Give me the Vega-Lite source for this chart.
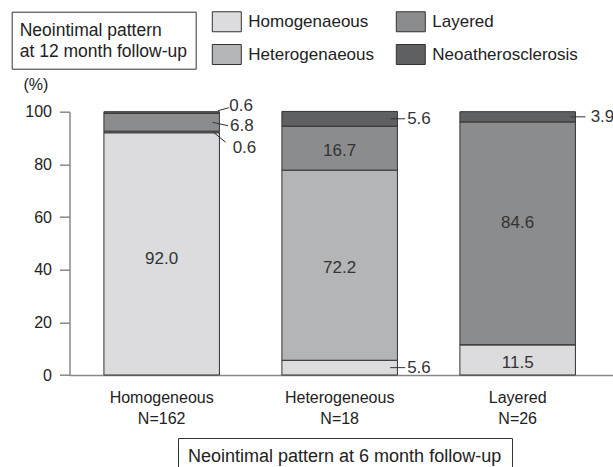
{
  "$schema": "https://vega.github.io/schema/vega-lite/v6.json",
  "width": 543.5,
  "height": 263.3,
  "autosize": {"type": "none"},
  "padding": {"left": 69.5, "top": 111.7, "right": 0, "bottom": 92},
  "background": "white",
  "config": {
    "font": "Liberation Sans",
    "view": {"stroke": null}
  },
  "data": {
    "values": [
      {"cat": "Homogeneous|N=162", "series": "Homogenaeous", "value": 92.0},
      {"cat": "Homogeneous|N=162", "series": "Heterogenaeous", "value": 0.6},
      {"cat": "Homogeneous|N=162", "series": "Layered", "value": 6.8},
      {"cat": "Homogeneous|N=162", "series": "Neoatherosclerosis", "value": 0.6},
      {"cat": "Heterogeneous|N=18", "series": "Homogenaeous", "value": 5.6},
      {"cat": "Heterogeneous|N=18", "series": "Heterogenaeous", "value": 72.2},
      {"cat": "Heterogeneous|N=18", "series": "Layered", "value": 16.7},
      {"cat": "Heterogeneous|N=18", "series": "Neoatherosclerosis", "value": 5.6},
      {"cat": "Layered|N=26", "series": "Homogenaeous", "value": 11.5},
      {"cat": "Layered|N=26", "series": "Heterogenaeous", "value": 0},
      {"cat": "Layered|N=26", "series": "Layered", "value": 84.6},
      {"cat": "Layered|N=26", "series": "Neoatherosclerosis", "value": 3.9}
    ]
  },
  "transform": [
    {"calculate": "indexof(['Homogenaeous','Heterogenaeous','Layered','Neoatherosclerosis'], datum.series)", "as": "k"},
    {"stack": "value", "groupby": ["cat"], "sort": [{"field": "k", "order": "ascending"}], "as": ["v0", "v1"]},
    {"calculate": "(datum.v0 + datum.v1) / 2", "as": "mid"}
  ],
  "encoding": {
    "x": {
      "field": "cat",
      "type": "nominal",
      "sort": null,
      "scale": {"type": "band", "paddingInner": 0.351, "paddingOuter": 0.2022, "align": 0.478},
      "axis": {
        "title": null,
        "ticks": false,
        "tickSize": 0,
        "labelAngle": 0,
        "labelExpr": "split(datum.label, '|')",
        "labelFontSize": 16,
        "labelLineHeight": 21,
        "labelColor": "#222",
        "labelPadding": 14,
        "domainColor": "#888",
        "domainWidth": 1.5
      }
    }
  },
  "layer": [
    {
      "mark": {"type": "bar", "stroke": "#333", "strokeWidth": 1},
      "encoding": {
        "y": {
          "field": "v0",
          "type": "quantitative",
          "title": "(%)",
          "scale": {"domain": [0, 100], "nice": false},
          "axis": {
            "values": [0, 20, 40, 60, 80, 100],
            "grid": false,
            "title": "(%)",
            "titleAngle": 0,
            "titleAlign": "left",
            "titleBaseline": "middle",
            "titleX": -46.5,
            "titleY": -27,
            "titleFontSize": 16,
            "titleFontWeight": "normal",
            "titleColor": "#222",
            "labelFontSize": 16,
            "labelColor": "#222",
            "labelPadding": 8,
            "tickSize": 10,
            "tickColor": "#888",
            "tickWidth": 1.5,
            "domainColor": "#888",
            "domainWidth": 1.5
          }
        },
        "y2": {"field": "v1"},
        "fill": {
          "field": "series",
          "type": "nominal",
          "scale": {
            "domain": ["Homogenaeous", "Heterogenaeous", "Layered", "Neoatherosclerosis"],
            "range": ["#dcdcde", "#b4b5b7", "#8b8c8e", "#5f6062"]
          },
          "legend": {
            "orient": "none",
            "legendX": 146.8,
            "legendY": -100.7,
            "columns": 2,
            "title": null,
            "padding": 0,
            "symbolType": "M-1.45,-1H1.45V1H-1.45Z",
            "symbolSize": 400,
            "symbolStrokeColor": "#333",
            "symbolStrokeWidth": 1,
            "labelFontSize": 17,
            "labelColor": "#222",
            "labelOffset": 11,
            "labelLimit": 300,
            "rowPadding": 8,
            "columnPadding": 20
          }
        },
        "opacity": {
          "field": "cat",
          "type": "nominal",
          "scale": {"range": [1, 1]},
          "legend": {
            "orient": "none",
            "legendX": -57.8,
            "legendY": -100,
            "values": [],
            "title": ["Neointimal pattern", "at 12 month follow-up"],
            "titleFontSize": 17.5,
            "titleLineHeight": 21.5,
            "titleBaseline": "line-top",
            "titleFontWeight": "normal",
            "titleColor": "#222",
            "titleLimit": 1000,
            "titlePadding": 0,
            "strokeColor": "#333",
            "padding": 8
          }
        },
        "strokeWidth": {
          "field": "value",
          "type": "quantitative",
          "scale": {"range": [1, 1]},
          "legend": {
            "orient": "none",
            "legendX": 108.5,
            "legendY": 326.3,
            "values": [],
            "title": "Neointimal pattern at 6 month follow-up",
            "titleFontSize": 18,
            "titleFontWeight": "normal",
            "titleColor": "#222",
            "titleLimit": 1000,
            "titlePadding": 0,
            "strokeColor": "#333",
            "padding": 10
          }
        }
      }
    },
    {
      "transform": [{"filter": "datum.value >= 10 && datum.value != 84.6 && datum.value != 92.0"}],
      "mark": {"type": "text", "baseline": "middle", "dy": 3, "fontSize": 17, "fill": "#333"},
      "encoding": {
        "y": {"field": "mid", "type": "quantitative", "title": "(%)"},
        "text": {"field": "value", "type": "quantitative", "format": ".1f"}
      }
    },
    {
      "transform": [{"filter": "datum.value == 84.6"}],
      "mark": {"type": "text", "baseline": "middle", "dy": -10, "fontSize": 17, "fill": "#333"},
      "encoding": {
        "y": {"field": "mid", "type": "quantitative", "title": "(%)"},
        "text": {"field": "value", "type": "quantitative", "format": ".1f"}
      }
    },
    {
      "transform": [{"filter": "datum.value == 92.0"}],
      "mark": {"type": "text", "baseline": "middle", "dy": 5, "fontSize": 17, "fill": "#333"},
      "encoding": {
        "y": {"field": "mid", "type": "quantitative", "title": "(%)"},
        "text": {"field": "value", "type": "quantitative", "format": ".1f"}
      }
    },
    {
      "transform": [{"filter": "datum.cat == 'Heterogeneous|N=18' && datum.value < 10"}],
      "layer": [
        {
          "mark": {"type": "text", "align": "left", "baseline": "middle", "dx": 67.5, "fontSize": 17, "fill": "#333"},
          "encoding": {
            "y": {"field": "mid", "type": "quantitative", "title": "(%)"},
            "text": {"field": "value", "type": "quantitative", "format": ".1f"}
          }
        },
        {
          "mark": {"type": "rule", "stroke": "#333", "strokeWidth": 1, "xOffset": 50.5, "x2Offset": 65.5},
          "encoding": {
            "x2": {"field": "cat"},
            "y": {"field": "mid", "type": "quantitative", "title": "(%)"}
          }
        }
      ]
    },
    {
      "transform": [{"filter": "datum.cat == 'Layered|N=26' && datum.value < 10 && datum.value > 0"}],
      "layer": [
        {
          "mark": {"type": "text", "align": "left", "baseline": "middle", "dx": 73, "fontSize": 17, "fill": "#333"},
          "encoding": {
            "y": {"field": "mid", "type": "quantitative", "title": "(%)"},
            "text": {"field": "value", "type": "quantitative", "format": ".1f"}
          }
        },
        {
          "mark": {"type": "rule", "stroke": "#333", "strokeWidth": 1, "xOffset": 52.75, "x2Offset": 67.75},
          "encoding": {
            "x2": {"field": "cat"},
            "y": {"field": "mid", "type": "quantitative", "title": "(%)"}
          }
        }
      ]
    },
    {
      "transform": [{"filter": "datum.cat == 'Homogeneous|N=162' && datum.series == 'Neoatherosclerosis'"}],
      "layer": [
        {
          "mark": {"type": "text", "align": "left", "baseline": "middle", "dx": 67.6, "dy": -6.5, "fontSize": 17, "fill": "#333"},
          "encoding": {
            "y": {"field": "mid", "type": "quantitative", "title": "(%)"},
            "text": {"field": "value", "type": "quantitative", "format": ".1f"}
          }
        },
        {
          "mark": {"type": "rule", "stroke": "#333", "strokeWidth": 1, "xOffset": 56.3, "x2Offset": 67.3, "yOffset": -1.8, "y2Offset": -4.8},
          "encoding": {
            "x2": {"field": "cat"},
            "y": {"field": "mid", "type": "quantitative", "title": "(%)"},
            "y2": {"field": "mid"}
          }
        }
      ]
    },
    {
      "transform": [{"filter": "datum.cat == 'Homogeneous|N=162' && datum.series == 'Layered'"}],
      "layer": [
        {
          "mark": {"type": "text", "align": "left", "baseline": "middle", "dx": 68.3, "dy": 4, "fontSize": 17, "fill": "#333"},
          "encoding": {
            "y": {"field": "mid", "type": "quantitative", "title": "(%)"},
            "text": {"field": "value", "type": "quantitative", "format": ".1f"}
          }
        },
        {
          "mark": {"type": "rule", "stroke": "#333", "strokeWidth": 1, "xOffset": 51, "x2Offset": 66.3, "yOffset": 0.1, "y2Offset": 3.5},
          "encoding": {
            "x2": {"field": "cat"},
            "y": {"field": "mid", "type": "quantitative", "title": "(%)"},
            "y2": {"field": "mid"}
          }
        }
      ]
    },
    {
      "transform": [{"filter": "datum.cat == 'Homogeneous|N=162' && datum.series == 'Heterogenaeous'"}],
      "layer": [
        {
          "mark": {"type": "text", "align": "left", "baseline": "middle", "dx": 71, "dy": 16, "fontSize": 17, "fill": "#333"},
          "encoding": {
            "y": {"field": "mid", "type": "quantitative", "title": "(%)"},
            "text": {"field": "value", "type": "quantitative", "format": ".1f"}
          }
        },
        {
          "mark": {"type": "rule", "stroke": "#333", "strokeWidth": 1, "xOffset": 52.3, "x2Offset": 64, "yOffset": 0.7, "y2Offset": 10.3},
          "encoding": {
            "x2": {"field": "cat"},
            "y": {"field": "mid", "type": "quantitative", "title": "(%)"},
            "y2": {"field": "mid"}
          }
        }
      ]
    }
  ]
}
